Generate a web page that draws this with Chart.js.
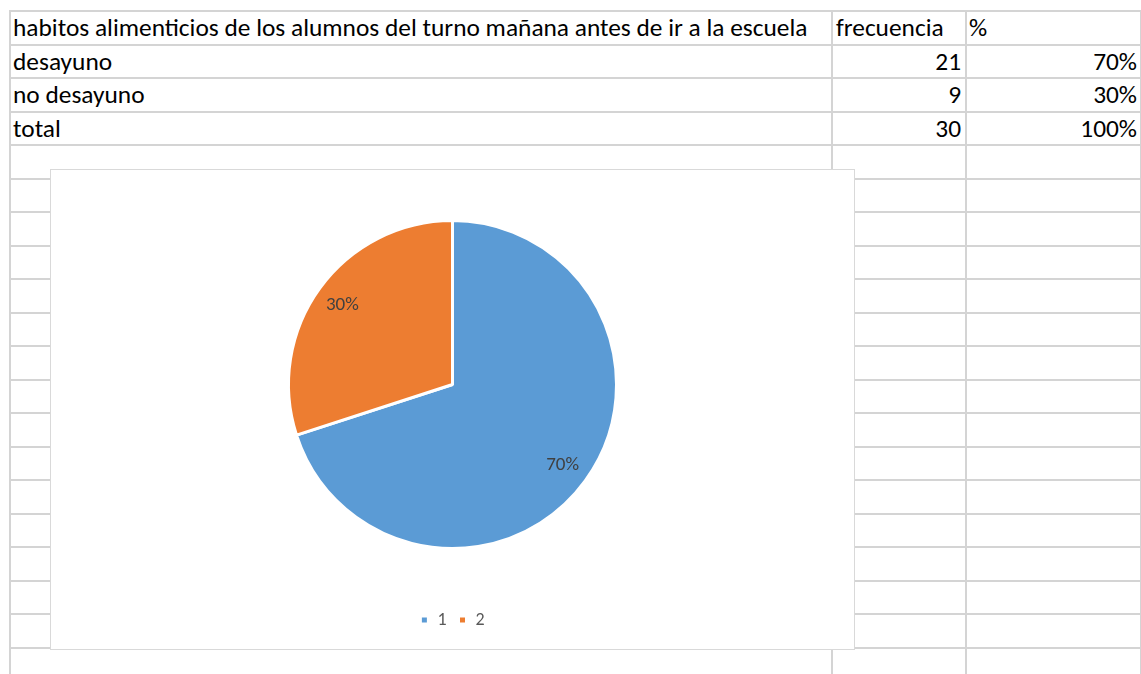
<!DOCTYPE html>
<html>
<head>
<meta charset="utf-8">
<script src="https://cdn.jsdelivr.net/npm/chart.js@4"></script>
<style>
  html, body { margin: 0; padding: 0; background: #fff; }
  body { width: 1141px; height: 674px; position: relative; overflow: hidden;
         font-family: Carlito, Calibri, Lato, sans-serif; color: #000; }
  .hl { position: absolute; height: 2px; background: #d4d4d4; }
  .vl { position: absolute; width: 2px; background: #d4d4d4; }
  .cell { position: absolute; white-space: nowrap; }
  .r { text-align: right; }
  #chartBox { position: absolute; left: 50px; top: 169px; width: 803px; height: 479px;
              background: #fff; border: 1.5px solid #d9d9d9; }
  #chartBox canvas { position: absolute; left: 0; top: 0; }
</style>
</head>
<body>
<div id="sheet"></div>
<div id="chartBox"><canvas id="pie" width="803" height="479"></canvas></div>
<script>
// Table data
const titulo = 'habitos alimenticios de los alumnos del turno mañana antes de ir a la escuela';
const colHeaders = ['frecuencia', '%'];
const categorias = ['desayuno', 'no desayuno', 'total'];
const frecuencia = [21, 9, 30];
const porcentaje = ['70%', '30%', '100%'];

// Pie data (Excel default series names)
const pieLabels = ['1', '2'];
const pieValues = [70, 30];
const pieColors = ['#5B9BD5', '#ED7D31'];

// Grid geometry
const rowTop = 10, rowH = 33.5, nRows = 20;
const colX = [9, 831, 965, 1140];
const sheet = document.getElementById('sheet');

for (let k = 0; k < nRows; k++) {
  const d = document.createElement('div');
  d.className = 'hl';
  d.style.left = colX[0] + 'px';
  d.style.width = (1141 - colX[0]) + 'px';
  d.style.top = Math.round(rowTop + k * rowH) + 'px';
  sheet.appendChild(d);
}
colX.forEach(x => {
  const d = document.createElement('div');
  d.className = 'vl';
  d.style.left = x + 'px';
  d.style.top = rowTop + 'px';
  d.style.height = (674 - rowTop) + 'px';
  sheet.appendChild(d);
});

// Fit font size so the title spans the same width as in the sheet
const mctx = document.createElement('canvas').getContext('2d');
const fam = 'Carlito, Calibri, Lato, sans-serif';
mctx.font = '20px ' + fam;
const fs = 20 * 795 / mctx.measureText(titulo).width;

function addCell(text, left, width, row, right) {
  const c = document.createElement('div');
  c.className = 'cell' + (right ? ' r' : '');
  c.textContent = text;
  c.style.left = left + 'px';
  c.style.width = width + 'px';
  c.style.top = (rowTop + row * rowH + 1) + 'px';
  c.style.height = rowH + 'px';
  c.style.lineHeight = rowH + 'px';
  c.style.fontSize = fs + 'px';
  sheet.appendChild(c);
}

addCell(titulo, 13, 810, 0, false);
addCell(colHeaders[0], 836, 125, 0, false);
addCell(colHeaders[1], 969, 165, 0, false);
categorias.forEach((cat, i) => {
  addCell(cat, 13, 810, i + 1, false);
  addCell(String(frecuencia[i]), 835, 126, i + 1, true);
  addCell(porcentaje[i], 969, 168, i + 1, true);
});

// Data labels drawn inside each slice
const sliceLabels = {
  id: 'sliceLabels',
  afterDatasetsDraw(chart) {
    const ctx = chart.ctx;
    const meta = chart.getDatasetMeta(0);
    const total = pieValues.reduce((a, b) => a + b, 0);
    ctx.save();
    ctx.fillStyle = '#404040';
    ctx.font = '19px ' + fam;
    ctx.textAlign = 'center';
    ctx.textBaseline = 'middle';
    meta.data.forEach((arc, i) => {
      const a = (arc.startAngle + arc.endAngle) / 2;
      const r = arc.outerRadius * 0.83;
      const pct = Math.round(pieValues[i] / total * 100) + '%';
      ctx.fillText(pct, arc.x + Math.cos(a) * r, arc.y + Math.sin(a) * r + 1);
    });
    ctx.restore();
  }
};

new Chart(document.getElementById('pie'), {
  type: 'pie',
  data: {
    labels: pieLabels,
    datasets: [{
      data: pieValues,
      backgroundColor: pieColors,
      borderColor: '#ffffff',
      borderWidth: 3
    }]
  },
  options: {
    responsive: false,
    animation: false,
    radius: 164,
    layout: { padding: { top: 0, bottom: 10 } },
    plugins: {
      legend: {
        position: 'bottom',
        labels: {
          boxWidth: 8, boxHeight: 8, padding: 12,
          color: '#595959',
          font: { size: 18, family: fam }
        }
      },
      tooltip: { enabled: false }
    }
  },
  plugins: [sliceLabels]
});
</script>
</body>
</html>
